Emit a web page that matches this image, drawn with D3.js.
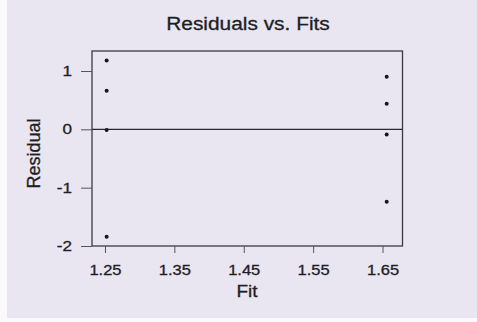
<!DOCTYPE html>
<html><head><meta charset="utf-8">
<script src="https://cdn.jsdelivr.net/npm/d3@7"></script>
<style>html,body{margin:0;padding:0;background:#fafafc;}svg{display:block;}</style>
</head><body>
<script>
// Data
const fits = [1.2524, 1.2524, 1.2524, 1.2524, 1.656, 1.656, 1.656, 1.656];
const residuals = [1.18, 0.66, -0.01, -1.84, 0.90, 0.44, -0.09, -1.24];
const xTicks = [1.25, 1.35, 1.45, 1.55, 1.65];
const yTicks = [1, 0, -1, -2];
const xTickLabels = ["1.25", "1.35", "1.45", "1.55", "1.65"];
const yTickLabels = ["1", "0", "-1", "-2"];
const title = "Residuals vs. Fits";
const xLabel = "Fit";
const yLabel = "Residual";

(function () {
const W = 477, H = 322;
const svg = d3.select("body").append("svg").attr("width", W).attr("height", H);
svg.append("rect").attr("x", 7).attr("y", 0).attr("width", W - 7).attr("height", 318).attr("fill", "#e9e6f1");

const pL = 92, pR = 402.5, pT = 51, pB = 246;
const x = d3.scaleLinear().domain([1.2313, 1.6788]).range([pL, pR]);
const y = d3.scaleLinear().domain([-2, 1]).range([pB, 71]);
const font = "'Liberation Sans', Arial, sans-serif";
const ink = "#1e1e24";

// frame
svg.append("rect").attr("x", pL).attr("y", pT).attr("width", pR - pL).attr("height", pB - pT)
  .attr("fill", "none").attr("stroke", "#3a3a44").attr("stroke-width", 1.3);

// zero reference line
svg.append("line").attr("x1", pL).attr("x2", pR).attr("y1", y(0)).attr("y2", y(0))
  .attr("stroke", "#2a2a32").attr("stroke-width", 1.2);

// axes
const xAxis = svg.append("g").attr("transform", `translate(0,${pB})`)
  .call(d3.axisBottom(x).tickValues(xTicks).tickFormat((d, i) => xTickLabels[i]).tickSize(7).tickPadding(12));
const yAxis = svg.append("g").attr("transform", `translate(${pL},0)`)
  .call(d3.axisLeft(y).tickValues(yTicks).tickFormat((d, i) => yTickLabels[i]).tickSize(11).tickPadding(6));
[xAxis, yAxis].forEach(g => {
  g.select(".domain").remove();
  g.selectAll(".tick line").attr("stroke", "#55555f").attr("stroke-width", 1);
  g.selectAll(".tick text").attr("font-family", font).attr("font-size", 14)
    .attr("fill", ink).attr("stroke", ink).attr("stroke-width", 0.3)
    .attr("transform", "scale(1.18,1)");
});
yAxis.selectAll(".tick text").attr("font-size", 14.5);

// points
svg.append("g").selectAll("circle").data(fits).join("circle")
  .attr("cx", d => x(d)).attr("cy", (d, i) => y(residuals[i])).attr("r", 2)
  .attr("fill", "#16161c");

// titles
svg.append("text").attr("transform", "translate(248,29.5) scale(1.16,1)").attr("text-anchor", "middle")
  .attr("font-family", font).attr("font-size", 18)
  .attr("fill", ink).attr("stroke", ink).attr("stroke-width", 0.3).text(title);
svg.append("text").attr("transform", "translate(247,297) scale(1.12,1)").attr("text-anchor", "middle")
  .attr("font-family", font).attr("font-size", 17)
  .attr("fill", ink).attr("stroke", ink).attr("stroke-width", 0.3).text(xLabel);
svg.append("text").attr("transform", "translate(40,153.5) rotate(-90)").attr("text-anchor", "middle")
  .attr("font-family", font).attr("font-size", 18)
  .attr("fill", ink).attr("stroke", ink).attr("stroke-width", 0.3).text(yLabel);
})();
</script>
</body></html>
